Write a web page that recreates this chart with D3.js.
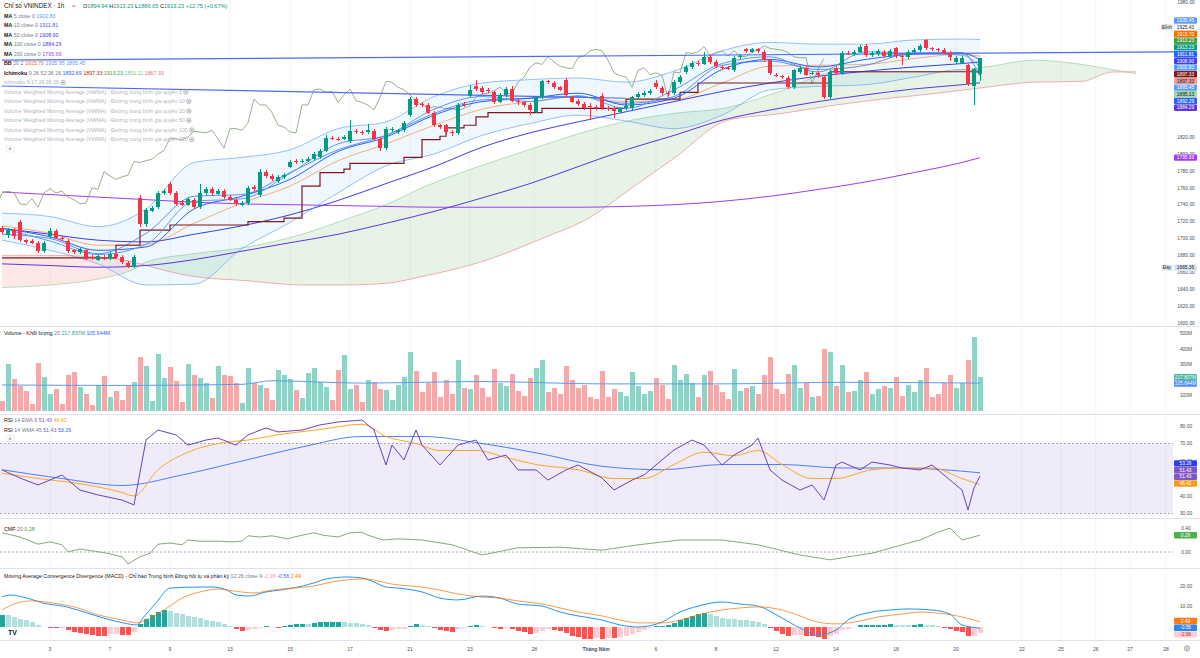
<!DOCTYPE html>
<html>
<head>
<meta charset="utf-8">
<script src="https://cdn.jsdelivr.net/npm/d3@7"></script>
<style>
  body { margin: 0; background: #fff; }
  svg { display: block; font-family: "Liberation Sans", Arial, sans-serif; }
</style>
</head>
<body>
<div class="chart"></div>
<script>
// ---- candles (1h bars, oldest first) ----
var opens = [1712,1704,1710,1719,1698,1697,1695,1685,1703,1709,1701,1697,1686,1684,1686,1678,1675,1678,1677,1682,
  1678,1671,1666,1748,1717,1733,1737,1754,1764,1754,1742,1740,1746,1737,1754,1759,1753,1756,1749,1746,
  1740,1742,1761,1751,1779,1774,1768,1773,1785,1792,1791,1792,1794,1796,1804,1819,1818,1818,1815,1827,
  1826,1826,1827,1818,1807,1828,1826,1828,1846,1865,1859,1858,1849,1834,1834,1826,1825,1859,1869,1880,
  1878,1876,1873,1862,1870,1877,1863,1861,1858,1850,1867,1886,1884,1879,1888,1867,1863,1859,1857,1856,
  1869,1855,1854,1850,1854,1854,1867,1870,1872,1884,1878,1872,1872,1885,1897,1903,1908,1907,1915,1909,
  1903,1902,1899,1915,1924,1921,1924,1921,1911,1894,1892,1890,1879,1897,1902,1895,1896,1891,1867,1902,
  1896,1920,1918,1921,1928,1917,1918,1921,1916,1925,1916,1915,1921,1923,1935,1925,1924,1923,1920,1909,
  1908,1905,1880.5,1894.94];
var highs = [1715,1713,1712,1722,1700,1699,1697,1697,1712,1711,1703,1699,1688,1689,1688,1680,1681,1680,1684,1684,
  1680,1673,1680,1752,1736,1738,1756,1758,1767,1756,1745,1749,1748,1765,1761,1761,1758,1758,1751,1748,
  1744,1762,1763,1782,1781,1776,1775,1777,1793,1794,1794,1796,1802,1806,1822,1821,1820,1822,1840,1829,
  1828,1836,1829,1820,1832,1832,1830,1839,1868,1867,1862,1860,1851,1836,1836,1828,1860,1861,1882,1888,
  1880,1878,1875,1872,1879,1880,1865,1863,1860,1869,1888,1888,1886,1881,1890,1869,1865,1861,1860,1858,
  1872,1857,1856,1856,1859,1869,1873,1874,1877,1887,1880,1874,1887,1893,1905,1910,1910,1921,1917,1911,
  1905,1904,1916,1918,1926,1926,1926,1923,1913,1896,1894,1892,1901,1904,1904,1898,1898,1893,1899,1904,
  1922,1922,1923,1929,1930,1922,1924,1923,1924,1927,1918,1923,1925,1930,1936,1927,1926,1925,1922,1916,
  1916,1907,1902,1913.23];
var lows = [1705,1701,1700,1696,1694,1693,1683,1683,1701,1699,1697,1683,1682,1682,1674,1675,1673,1674,1675,1676,
  1670,1665.36,1665.5,1714,1714,1731,1735,1752,1752,1739,1738,1738,1735,1735,1752,1752,1751,1747,1744,1739,
  1738,1740,1756,1749,1772,1768,1766,1771,1783,1788,1789,1790,1792,1794,1802,1816,1815,1816,1813,1824,
  1823,1824,1816,1804,1805,1826,1824,1826,1844,1856,1856,1847,1832,1830,1824,1821,1822,1856,1867,1875,
  1871,1872,1859,1860,1868,1861,1858,1856,1846,1848,1865,1883,1877,1874,1868,1860,1857,1852,1840,1852,
  1852,1851,1843,1848,1852,1852,1865,1868,1870,1877,1870,1869,1870,1883,1895,1901,1904,1905,1907,1902,
  1899,1899,1897,1913,1920,1919,1920,1909,1894,1891,1889,1877,1877,1895,1892,1893,1890,1865,1865,1894,
  1894,1917,1916,1919,1915,1915,1916,1914,1914,1914,1905,1913,1919,1921,1923,1922,1921,1918,1910,1907,
  1906,1881,1858,1886.05];
var closes = [1708,1710,1703,1698,1696,1695,1685,1695,1709,1701,1699,1685,1684,1687,1676,1677,1679,1676,1682,1678,
  1672,1666,1678,1717,1734,1736,1754,1756,1754,1741,1740,1747,1737,1754,1759,1754,1756,1749,1746,1741,
  1742,1760,1758,1779,1774,1770,1773,1775,1791,1790,1792,1794,1800,1804,1819,1818,1817,1820,1827,1826,
  1825,1828,1818,1807,1830,1830,1828,1837,1865,1858,1858,1849,1834,1832,1826,1825,1858,1858,1876,1877,
  1873,1874,1861,1870,1877,1863,1861,1858,1852,1867,1886,1885,1879,1876,1870,1862,1859,1854,1856,1855,
  1854,1854,1851,1854,1857,1867,1871,1872,1875,1879,1872,1871,1885,1891,1903,1908,1906,1915,1909,1904,
  1902,1901,1914,1916,1922,1924,1922,1911,1896,1893,1891,1879,1899,1902,1894,1896,1893,1867,1897,1896,
  1920,1919,1921,1927,1917,1920,1922,1916,1922,1916,1915,1921,1923,1928,1925,1924,1923,1920,1915,1914,
  1914,1883,1900.48,1913.23];

// ---- volume (millions) ----
var volumes = [64,301,205,160,128,45,307,218,109,141,45,231,250,154,109,38,167,224,90,128,
  70,160,186,346,288,64,365,211,282,192,58,301,231,211,179,83,288,231,224,179,
  51,276,179,167,147,70,263,231,205,135,83,244,276,186,154,70,263,359,141,167,
  58,199,186,141,135,70,170,220,380,260,120,180,250,90,200,110,330,150,140,230,
  150,90,270,180,160,240,130,100,210,280,330,120,150,110,290,200,150,170,90,80,
  260,90,140,120,100,250,160,110,130,210,170,80,300,200,240,180,90,230,260,170,
  120,80,270,130,150,160,110,230,350,140,110,240,300,150,180,90,100,400,380,160,
  300,120,130,200,250,110,140,160,150,220,100,170,120,200,280,90,110,180,230,150,
  180,330,475,217.837];
var volMaIdx = [0,20,40,45,60,80,100,120,140,163];
var volMaVal = [168,165,172,195,180,190,175,175,185,180];

// ---- overlays, sampled every 8 bars ----
var sampleIdx = [0,8,16,24,32,40,48,56,64,72,80,88,96,104,112,120,128,136,144,152,160,163];
var ma5 = [1712,1697,1681,1693,1744,1747,1777,1812,1822,1853,1868,1862,1869,1854,1876,1907,1915,1897,1921,1919,1917,1902.83];
var ma10 = [1712,1702,1686,1690,1735,1750,1770,1803,1820,1846,1862,1866,1872,1858,1866,1900,1912,1903,1912,1918,1919,1911.81];
var ma50 = [1712,1705,1698,1696,1705,1715,1728,1745,1765,1785,1808,1825,1838,1850,1862,1874,1884,1892,1898,1903,1907,1908.90];
var ma100 = [1670,1668,1666,1668,1675,1685,1695,1705,1718,1732,1748,1765,1785,1805,1822,1840,1852,1862,1870,1877,1882,1884.29];
var ma200 = [1755,1752,1749,1746,1743,1741,1740,1739,1738,1737,1737,1737,1737,1738,1740,1744,1750,1758,1767,1778,1790,1795.69];
var bbBasis = [1715,1706,1692,1693,1718,1742,1762,1792,1812,1834,1853,1862,1868,1862,1864,1884,1904,1905,1906,1913,1918,1915.70];
var bbUpper = [1730,1726,1714,1735,1790,1796,1805,1830,1838,1868,1884,1888,1890,1885,1898,1922,1932,1930,1930,1935,1936,1935.45];
var bbLower = [1698,1686,1670,1645,1646,1688,1719,1754,1786,1800,1822,1836,1846,1839,1830,1846,1876,1880,1882,1891,1900,1895.45];
var tenkan = [1705,1700,1682,1706,1750,1752,1778,1805,1822,1848,1864,1866,1868,1860,1868,1905,1910,1900,1905,1920,1920,1892.29];

var kijunIdx = [0,19,23,28,41,47,50,53,57,58,67,70,73,74,77,79,81,90,104,113,116,138,163];
var kijunVal = [1677,1692,1710,1716,1720,1724,1762,1778,1782,1789,1796,1817,1821,1831,1834,1844,1849,1854,1865,1873,1884,1897.33,1897.33];

var cloudIdx = [0,8,16,22,24,32,41,50,57,64,70,81,90,98,105,112,121,130,139,148,156,164,172,180,185,189];
var spanA = [1642,1645,1652,1664,1672,1682,1690,1705,1722,1740,1760,1789,1810,1828,1840,1848,1855,1875,1897,1897,1897,1903,1911,1906,1900,1895.13];
var spanB = [1680,1680,1678,1672,1668,1655,1650,1645,1645,1647,1655,1675,1700,1725,1760,1795,1840,1848,1858,1866,1872,1879,1885,1886,1897,1897.33];
var laggingShift = 26;

// user trend lines: [bar index, price]
var trendLines = [
  [[0, 1911], [196, 1921]],
  [[0, 1880.5], [104, 1866]]
];

// ---- RSI pane ----
var rsiIdx = [0,3,6,10,13,16,20,22,24,26,29,31,34,36,39,41,44,46,50,53,56,60,62,64,65,67,69,70,73,76,79,81,84,86,89,91,94,96,
  100,102,105,107,110,112,115,117,120,122,125,126,128,130,133,135,137,139,140,143,145,148,150,153,155,158,160,161,162,163];
var rsiVal = [54.9,50.3,46.3,52.0,43.4,40.6,37.7,34.9,72.0,77.7,74.9,69.1,72.0,73.1,69.1,74.9,78.9,76.6,77.7,80.6,82.3,83.4,77.7,57.7,69.1,60.6,77.7,69.1,57.7,69.1,72.0,60.6,63.4,54.9,54.9,49.1,54.9,57.7,
  50.3,43.4,49.1,52.0,60.6,66.3,72.0,69.1,57.7,63.4,69.1,73.1,54.9,49.1,43.4,46.3,37.7,57.7,59.4,54.9,59.4,57.7,56.0,54.9,57.7,49.1,43.4,32.0,44.6,51.43];
var rsiEmaIdx = [0,6,13,20,22,26,31,36,41,46,53,60,64,69,73,79,84,89,96,102,107,112,117,122,126,130,135,139,145,150,155,160,163];
var rsiEmaVal = [53,50,47,42,40,55,65,70,72,75,78,81,74,70,66,66,62,58,55,50,50,58,65,63,66,58,50,50,55,56,56,50,46.42];
var rsiWmaIdx = [0,10,20,30,40,50,60,70,80,90,100,110,120,130,140,150,163];
var rsiWmaVal = [55,50,46,52,60,68,74,74,70,64,57,55,58,58,56,56,53.26];

// ---- CMF pane ----
var cmfIdx = [0,3,5,6,8,10,11,13,15,17.5,20,21,23,24.7,26,28,30,31,33,36,38.5,40,41,43,45,47.5,50,52,53.5,56,58,60,61,63.5,66,
  70,75,80,86,93,100,106,113,120,126,133,138,141,145,150,153,156,158,160,163];
var cmfVal = [0.32,0.25,0.17,0.13,0.17,0.12,0.0,0.05,0.02,-0.02,-0.08,-0.2,-0.08,-0.02,0.13,0.15,0.12,0.2,0.18,0.18,0.17,0.18,0.27,0.25,0.27,0.22,0.28,0.32,0.28,0.25,0.32,0.33,0.28,0.2,0.22,
  0.2,0.12,-0.05,0.07,0.08,0.03,0.12,0.2,0.2,0.12,-0.05,-0.13,-0.08,-0.02,0.12,0.2,0.33,0.4,0.2,0.28];

// ---- MACD pane ----
var macdIdx = [0,1.3,4.2,6.8,10.8,14.2,17.5,20.2,22.5,23.5,25.8,28,33,35,37.5,39,41.3,44,46.3,48.5,52,54,57.5,60,62,64,66,
  70,73,76,80,83,86,90,93,96,100,103,106,110,113,116,120,123,126,130,133,136,139,141,145,148,151,155,158,160,163];
var macdVal = [14.6,15.6,14.1,11.7,9.8,6.8,3.9,2.0,1.0,4.4,12.2,19.0,19.5,19.5,18.0,15.6,15.1,17.1,18.0,19.0,21.5,23.4,24.4,23.9,22.0,19.5,19.0,
  17.1,14.1,13.2,15.1,14.1,11.2,10.2,7.3,5.4,3.4,1.0,0.0,2.4,7.3,10.2,12.2,11.2,10.2,4.4,-0.5,-3.9,-1.5,3.4,7.3,8.3,8.8,8.3,6.3,1.0,-0.56];
var signalIdx = [0,2.5,5,8.5,12,16,20,22.5,25,27.5,30,33,36,38.5,42,45,48.5,52,55,60,62,64,66,
  70,73,76,80,83,86,90,93,96,100,103,106,110,113,116,120,123,126,130,133,136,139,143,146,150,153,156,160,163];
var signalVal = [8.3,11.7,12.7,11.7,9.8,5.9,3.4,2.0,4.9,9.3,14.1,17.1,18.5,17.6,16.6,18.0,19.0,20.0,22.0,23.4,22.9,21.5,20.5,
  19.5,18.0,16.1,14.6,14.1,12.7,11.2,9.3,7.3,5.4,3.4,2.0,2.0,3.4,5.9,8.3,9.3,9.8,8.3,5.4,2.4,1.5,2.9,4.9,6.3,7.3,6.8,4.9,2.49];
var histogram = [6.0,5.8,4.8,4.0,3.2,2.4,1.2,0.2,-0.4,-0.5,-0.3,-1.5,-2.3,-2.8,-3.3,-4.0,-4.4,-4.4,-3.6,-3.4,
  -3.8,-4.0,-2.5,1.5,4.0,6.0,7.5,8.3,8.0,7.0,6.2,5.5,4.8,4.2,3.6,3.0,2.3,1.5,0.6,-1.2,
  -2.0,-1.6,-0.8,-0.2,0.4,0.2,-0.1,0.3,1.2,1.5,1.5,1.4,2.0,2.3,2.5,2.6,2.6,2.2,2.0,1.8,
  1.5,1.0,-0.6,-1.5,-1.8,-1.5,-1.2,-0.8,0.5,1.5,1.2,0.6,-0.5,-1.5,-2.0,-2.2,-1.0,-0.3,0.3,0.8,
  0.6,0.2,-0.6,-0.9,-0.7,-1.2,-1.8,-2.4,-3.2,-3.0,-1.8,-1.2,-1.5,-2.0,-3.0,-4.2,-5.0,-5.8,-6.0,-5.6,
  -5.8,-5.5,-5.6,-5.0,-4.2,-3.2,-2.2,-1.3,-0.4,0.4,0.6,0.9,2.0,3.2,4.5,5.6,6.2,6.6,6.2,5.4,
  4.6,4.0,3.8,3.5,3.2,2.9,2.4,1.5,-0.5,-2.0,-3.2,-4.4,-4.0,-3.8,-4.2,-4.5,-5.0,-6.0,-4.5,-3.6,
  -1.5,-0.8,0.2,0.8,0.8,1.0,1.2,1.2,1.4,1.2,0.9,0.8,1.0,1.4,1.2,0.9,0.5,-0.3,-1.2,-2.0,
  -2.6,-4.5,-4.2,-2.96];

// ---- axes ----
var priceTicks = [1600,1620,1640,1660,1680,1700,1720,1740,1760,1780,1800,1820,1960,1980];
var volumeTicks = [100,200,300,400,500];
var rsiTicks = [30,40,50,60,70,80];
var cmfTicks = [0, 0.4];
var macdTicks = [10, 20];
var timeTickIdx = [8,18,28,38,48,58,68,78,88.7,99,109,119,129,139,149,159,170,176.5,182.3,188,194];
var timeTickLabels = ["3","7","9","13","15","17","21","23","28","Tháng Năm","6","8","12","14","18","20","22","25","26","27","28"];

// right-axis value labels: [value, text, colour key]
var priceTags = [
  [1935.45, "1935.45", "bb"], [1925.43, "1925.43", "high"], [1915.70, "1915.70", "basis"],
  [1913.23, "1913.23", "lag"], [1913.23, "1913.23", "close"], [1911.81, "1911.81", "ma10"],
  [1908.90, "1908.90", "ma50"], [1902.83, "1902.83", "ma5"], [1897.33, "1897.33", "kijun"],
  [1897.33, "1897.33", "spanB"], [1895.45, "1895.45", "bb"], [1895.13, "1895.13", "spanA"],
  [1892.29, "1892.29", "tenkan"], [1884.29, "1884.29", "ma100"]
];

var C = {
  up: "#089981", down: "#f23645",
  ma5: "#5b9cf6", ma10: "#2962ff", ma50: "#3d3df2", ma100: "#5e35e0", ma200: "#a13cf0",
  bb: "#5b9cf6", basis: "#ff6d00", tenkan: "#2962ff", kijun: "#801919", lag: "#43a047",
  spanA: "#a5d6a7", spanB: "#ef9a9a", close: "#089981", high: "#ffffff",
  text: "#131722", grey: "#787b86", faint: "#b2b5be"
};

var width = 1200, height = 658, plotW = 1175;
var svg = d3.select(".chart").append("svg").attr("width", width).attr("height", height);

var x = d3.scaleLinear().domain([0, 163]).range([2, 980]);
var yPrice = d3.scaleLinear().domain([1600, 1980]).range([323, 1.9]);
var yVol = d3.scaleLinear().domain([0, 500]).range([411, 333.5]);
var yRsi = d3.scaleLinear().domain([30, 80]).range([513.5, 426]);
var yCmf = d3.scaleLinear().domain([0, 0.4]).range([552, 528]);
var yMacd = d3.scaleLinear().domain([0, 20]).range([627, 586]);

function clip(id, y0, y1) {
  svg.append("clipPath").attr("id", id).append("rect")
    .attr("x", 0).attr("y", y0).attr("width", plotW).attr("height", y1 - y0);
}
clip("cMain", 0, 325); clip("cVol", 327, 413); clip("cRsi", 415, 517); clip("cCmf", 519, 567); clip("cMacd", 569, 639);

// grid + separators
var grid = svg.append("g");
timeTickIdx.forEach(function (t) {
  grid.append("line").attr("x1", x(t)).attr("x2", x(t)).attr("y1", 0).attr("y2", 640)
    .attr("stroke", "#f4f5f8").attr("stroke-width", 1);
});
[326, 414, 518, 568, 640].forEach(function (y) {
  grid.append("line").attr("x1", 0).attr("x2", width).attr("y1", y + 0.5).attr("y2", y + 0.5)
    .attr("stroke", "#e0e3eb");
});

function pts(idx, vals) { return d3.zip(idx, vals); }
function drawLine(g, data, yScale, color, w, curve, opacity) {
  g.append("path").datum(data)
    .attr("fill", "none").attr("stroke", color).attr("stroke-width", w || 1)
    .attr("opacity", opacity == null ? 1 : opacity)
    .attr("d", d3.line().x(function (d) { return x(d[0]); }).y(function (d) { return yScale(d[1]); })
      .curve(curve || d3.curveMonotoneX));
}

// ===== main pane =====
var main = svg.append("g").attr("clip-path", "url(#cMain)");

// ichimoku cloud (green where A above B, red otherwise)
var cloud = d3.zip(cloudIdx, spanA, spanB);
var cloudArea = d3.area().x(function (d) { return x(d[0]); })
  .y0(function (d) { return yPrice(d[2]); }).y1(function (d) { return yPrice(d[1]); }).curve(d3.curveMonotoneX);
svg.append("clipPath").attr("id", "aboveB").append("path").datum(cloud)
  .attr("d", d3.area().x(function (d) { return x(d[0]); }).y0(0).y1(function (d) { return yPrice(d[2]); }).curve(d3.curveMonotoneX));
svg.append("clipPath").attr("id", "belowB").append("path").datum(cloud)
  .attr("d", d3.area().x(function (d) { return x(d[0]); }).y0(330).y1(function (d) { return yPrice(d[2]); }).curve(d3.curveMonotoneX));
main.append("g").attr("clip-path", "url(#aboveB)").append("path").datum(cloud)
  .attr("d", cloudArea).attr("fill", "rgba(67,160,71,0.13)");
main.append("g").attr("clip-path", "url(#belowB)").append("path").datum(cloud)
  .attr("d", cloudArea).attr("fill", "rgba(244,67,54,0.12)");
drawLine(main, pts(cloudIdx, spanA), yPrice, C.spanA, 0.8);
drawLine(main, pts(cloudIdx, spanB), yPrice, C.spanB, 0.8);

// bollinger fill
main.append("path").datum(d3.zip(sampleIdx, bbUpper, bbLower))
  .attr("fill", "rgba(33,150,243,0.07)")
  .attr("d", d3.area().x(function (d) { return x(d[0]); })
    .y0(function (d) { return yPrice(d[2]); }).y1(function (d) { return yPrice(d[1]); }).curve(d3.curveMonotoneX));

drawLine(main, pts(sampleIdx, ma200), yPrice, C.ma200, 1);
drawLine(main, pts(sampleIdx, ma100), yPrice, C.ma100, 1);
drawLine(main, pts(sampleIdx, ma50), yPrice, C.ma50, 1);
drawLine(main, pts(sampleIdx, bbUpper), yPrice, C.bb, 0.9, null, 0.7);
drawLine(main, pts(sampleIdx, bbLower), yPrice, C.bb, 0.9, null, 0.7);
drawLine(main, pts(sampleIdx, bbBasis), yPrice, C.basis, 0.9, null, 0.6);
drawLine(main, closes.map(function (c, i) { return [i - laggingShift, c]; }), yPrice, "#8fa880", 0.9, d3.curveLinear);
drawLine(main, pts(kijunIdx, kijunVal), yPrice, C.kijun, 1.2, d3.curveStepAfter);
drawLine(main, pts(sampleIdx, tenkan), yPrice, C.tenkan, 0.9, null, 0.8);
drawLine(main, pts(sampleIdx, ma10), yPrice, C.ma10, 1);
drawLine(main, pts(sampleIdx, ma5), yPrice, C.ma5, 1);

trendLines.forEach(function (t) {
  main.append("line").attr("x1", x(t[0][0])).attr("y1", yPrice(t[0][1]))
    .attr("x2", x(t[1][0])).attr("y2", yPrice(t[1][1]))
    .attr("stroke", "#4d6cf5").attr("stroke-width", 1.2);
});

// candles
var candles = main.append("g").attr("shape-rendering", "crispEdges");
closes.forEach(function (c, i) {
  var o = opens[i], col = c >= o ? C.up : C.down;
  candles.append("rect").attr("x", x(i) - 0.5).attr("width", 1)
    .attr("y", yPrice(highs[i])).attr("height", Math.max(1, yPrice(lows[i]) - yPrice(highs[i])))
    .attr("fill", col);
  candles.append("rect").attr("x", x(i) - 2).attr("width", 4)
    .attr("y", yPrice(Math.max(o, c))).attr("height", Math.max(1, Math.abs(yPrice(o) - yPrice(c))))
    .attr("fill", col);
});

// ===== volume pane =====
var vol = svg.append("g").attr("clip-path", "url(#cVol)").attr("shape-rendering", "crispEdges");
volumes.forEach(function (v, i) {
  vol.append("rect").attr("x", x(i) - 2).attr("width", 5)
    .attr("y", yVol(v)).attr("height", yVol(0) - yVol(v))
    .attr("fill", closes[i] >= opens[i] ? "#8fd3c6" : "#f5a8aa");
});
drawLine(svg.append("g").attr("clip-path", "url(#cVol)"), pts(volMaIdx, volMaVal), yVol, "#5b9cf6", 1);

// ===== RSI pane =====
var rsi = svg.append("g").attr("clip-path", "url(#cRsi)");
rsi.append("rect").attr("x", 0).attr("width", 1173).attr("y", yRsi(70)).attr("height", yRsi(30) - yRsi(70))
  .attr("fill", "rgba(126,87,194,0.12)");
[70, 30].forEach(function (v) {
  rsi.append("line").attr("x1", 0).attr("x2", 1173).attr("y1", yRsi(v)).attr("y2", yRsi(v))
    .attr("stroke", "#9598a1").attr("stroke-dasharray", "2,2").attr("stroke-width", 0.8);
});
drawLine(rsi, pts(rsiWmaIdx, rsiWmaVal), yRsi, "#2962ff", 1, null, 0.8);
drawLine(rsi, pts(rsiEmaIdx, rsiEmaVal), yRsi, "#ffa726", 1);
drawLine(rsi, pts(rsiIdx, rsiVal), yRsi, "#6a42c2", 1, d3.curveLinear);

// ===== CMF pane =====
var cmf = svg.append("g").attr("clip-path", "url(#cCmf)");
cmf.append("line").attr("x1", 0).attr("x2", 1173).attr("y1", yCmf(0)).attr("y2", yCmf(0))
  .attr("stroke", "#9598a1").attr("stroke-dasharray", "2,2").attr("stroke-width", 0.8);
drawLine(cmf, pts(cmfIdx, cmfVal), yCmf, "#86a97a", 1, d3.curveLinear);

// ===== MACD pane =====
var macd = svg.append("g").attr("clip-path", "url(#cMacd)");
var hg = macd.append("g").attr("shape-rendering", "crispEdges");
histogram.forEach(function (h, i) {
  var prev = i > 0 ? histogram[i - 1] : h, col;
  if (h >= 0) col = h >= prev ? "#26a69a" : "#b2dfdb";
  else col = h <= prev ? "#ff5252" : "#ffcdd2";
  hg.append("rect").attr("x", x(i) - 2).attr("width", 5)
    .attr("y", Math.min(yMacd(h), yMacd(0))).attr("height", Math.max(0.5, Math.abs(yMacd(h) - yMacd(0))))
    .attr("fill", col);
});
drawLine(macd, pts(macdIdx, macdVal), yMacd, "#2196f3", 1);
drawLine(macd, pts(signalIdx, signalVal), yMacd, "#ff6d00", 1, null, 0.7);

// ===== right axis =====
var axis = svg.append("g").attr("font-size", "4.9px").attr("fill", "#4a4e59").attr("text-anchor", "middle");
function ticks(list, scale, fmt) {
  list.forEach(function (t) {
    axis.append("text").attr("x", 1186).attr("y", scale(t) + 1.7).text(fmt(t));
  });
}
ticks(priceTicks, yPrice, function (t) { return t.toFixed(2); });
ticks(volumeTicks, yVol, function (t) { return t + "M"; });
ticks(rsiTicks, yRsi, function (t) { return t.toFixed(2); });
ticks(cmfTicks, yCmf, function (t) { return t.toFixed(2); });
ticks(macdTicks, yMacd, function (t) { return t.toFixed(2); });

function stack(list, scale, gap) {
  var items = list.map(function (d, k) { return { v: d[0], t: d[1], c: d[2], y0: scale(d[0]), k: k }; })
    .sort(function (a, b) { return a.y0 - b.y0 || a.k - b.k; });
  var groups = [];
  items.forEach(function (d) {
    groups.push([d]);
    while (groups.length > 1) {
      var g = groups[groups.length - 1], p = groups[groups.length - 2];
      var pc = d3.mean(p, function (e) { return e.y0; }), gc = d3.mean(g, function (e) { return e.y0; });
      if (gc - g.length * gap / 2 < pc + p.length * gap / 2) { groups.pop(); groups[groups.length - 1] = p.concat(g); }
      else break;
    }
  });
  groups.forEach(function (g) {
    var top = d3.mean(g, function (e) { return e.y0; }) - g.length * gap / 2;
    g.forEach(function (e, k) { e.y = top + gap * (k + 0.5); });
  });
  return items;
}
var darkText = { spanA: 1, spanB: 1, high: 1 };
function tag(y, text, bg, fg) {
  var g = svg.append("g");
  g.append("rect").attr("x", 1174).attr("y", y - 3.2).attr("width", 23).attr("height", 6.4).attr("rx", 1)
    .attr("fill", bg).attr("stroke", bg === "#ffffff" ? "#d1d4dc" : "none").attr("stroke-width", 0.4);
  g.append("text").attr("x", 1185.5).attr("y", y + 1.7).attr("text-anchor", "middle")
    .attr("font-size", "4.8px").attr("fill", fg).text(text);
}
function sideTag(y, text) {
  svg.append("rect").attr("x", 1161).attr("y", y - 3.2).attr("width", 12).attr("height", 6.4).attr("rx", 1).attr("fill", "#e9ecf2");
  svg.append("text").attr("x", 1167).attr("y", y + 1.7).attr("text-anchor", "middle")
    .attr("font-size", "4.8px").attr("fill", C.text).text(text);
}
stack(priceTags, yPrice, 6.7).forEach(function (d) {
  var bg = d.c === "high" ? "#ffffff" : C[d.c];
  tag(d.y, d.t, bg, darkText[d.c] ? C.text : "#ffffff");
  if (d.c === "high") sideTag(d.y, "Đỉnh");
});
tag(yPrice(1795.69), "1795.69", C.ma200, "#fff");
tag(yPrice(1665.36), "1665.36", "#dde5f3", C.text);
sideTag(yPrice(1665.36), "Đáy");

// volume tag at its value, the MA tag sits right under it (as in the TradingView scale)
var volTagY = yVol(217.837);
tag(volTagY, "217.837M", "#4fb3a0", "#fff");
tag(volTagY + 6.4, "105.644M", "#4c8df6", "#fff");

stack([[53.26, "53.26", "#2b3ff0"], [51.43, "51.43", "#7e57c2"], [51.43, "51.43", "#7e57c2"], [46.42, "46.42", "#f59c1a"]], yRsi, 6.7)
  .forEach(function (d) { tag(d.y - 4, d.t, d.c, "#fff"); });
tag(yCmf(0.28), "0.28", "#4caf50", "#fff");
stack([[2.49, "2.49", "#ff7a1a"], [-0.56, "-0.56", "#2f86f0"], [-2.96, "-2.96", "#ffcdd2"]], yMacd, 6.7)
  .forEach(function (d) { tag(d.y, d.t, d.c, d.c === "#ffcdd2" ? "#b71c1c" : "#fff"); });

// ===== time axis =====
var taxis = svg.append("g").attr("font-size", "5px").attr("fill", "#4a4e59").attr("text-anchor", "middle");
timeTickIdx.forEach(function (t, k) {
  taxis.append("text").attr("x", x(t)).attr("y", 650.5).attr("font-weight", timeTickLabels[k] === "Tháng Năm" ? 700 : 400)
    .text(timeTickLabels[k]);
});
svg.append("circle").attr("cx", 1187).attr("cy", 648.5).attr("r", 2.6).attr("fill", "none").attr("stroke", "#6a6d78").attr("stroke-width", 0.7);
svg.append("circle").attr("cx", 1187).attr("cy", 648.5).attr("r", 0.9).attr("fill", "none").attr("stroke", "#6a6d78").attr("stroke-width", 0.6);
svg.append("text").attr("x", 8).attr("y", 635).attr("font-size", "7px").attr("font-weight", 700).attr("fill", "#131722").text("TV");

// ===== legends =====
var legend = svg.append("g").attr("font-size", "5.3px");
function row(xp, y, parts, size) {
  var t = legend.append("text").attr("x", xp).attr("y", y).attr("font-size", size || null);
  parts.forEach(function (p, k) {
    t.append("tspan").attr("fill", p[1]).attr("font-weight", p[2] || 400).text((k ? " " : "") + p[0]);
  });
  return t;
}
function eye(t, y) {
  var bx = t.node().getComputedTextLength() + t.node().getStartPositionOfChar(0).x + 4;
  legend.append("circle").attr("cx", bx).attr("cy", y - 1.8).attr("r", 2.3).attr("fill", "#eceef2").attr("stroke", "#8a8d96").attr("stroke-width", 0.5);
  legend.append("circle").attr("cx", bx).attr("cy", y - 1.8).attr("r", 0.8).attr("fill", "#8a8d96");
}
var G = C.grey;
row(4, 8, [["Chỉ số VNINDEX · 1h", C.text, 500]], "6.3px");
legend.append("text").attr("x", 72).attr("y", 8).attr("font-size", "6px").attr("fill", G).text("≈");
var ohlc = legend.append("text").attr("x", 83).attr("y", 8).attr("font-size", "5.6px");
[["O", "1894.94"], ["H", "1913.23"], ["L", "1886.05"], ["C", "1913.23"]].forEach(function (p, k) {
  ohlc.append("tspan").attr("fill", C.text).text((k ? " " : "") + p[0]);
  ohlc.append("tspan").attr("fill", C.up).text(p[1]);
});
ohlc.append("tspan").attr("fill", C.up).text(" +12.75 (+0.67%)");
row(4, 17.8, [["MA", C.text, 600], ["5 close 0", G], ["1902.83", C.ma5]]);
row(4, 27.3, [["MA", C.text, 600], ["10 close 0", G], ["1911.81", C.ma10]]);
row(4, 36.8, [["MA", C.text, 600], ["50 close 0", G], ["1908.90", C.ma50]]);
row(4, 46.3, [["MA", C.text, 600], ["100 close 0", G], ["1884.29", C.ma100]]);
row(4, 55.8, [["MA", C.text, 600], ["200 close 0", G], ["1795.69", C.ma200]]);
row(4, 65.3, [["BB", C.text, 600], ["20 2", G], ["1915.70", C.basis], ["1935.95", C.bb], ["1895.45", C.bb]]);
row(4, 74.8, [["Ichimoku", C.text, 600], ["9 26 52 26 26", G], ["1892.69", C.tenkan], ["1897.33", "#b71c1c"],
  ["1913.23", C.lag], ["1851.11", "#81c784"], ["1867.33", "#e57373"]]);
eye(row(4, 84.3, [["Ichimoku 9 17 26 26 26", C.faint]]), 84.3);
[5, 10, 20, 50, 100, 200].forEach(function (n, k) {
  var y = 93.8 + k * 9.5;
  eye(row(4, y, [["Volume Weighted Moving Average (VWMA) · Đường trung bình gia quyền " + n, C.faint]]), y);
});
function collapse(y) {
  legend.append("rect").attr("x", 6).attr("y", y - 3).attr("width", 8).attr("height", 6).attr("rx", 1)
    .attr("fill", "#fff").attr("stroke", "#d1d4dc").attr("stroke-width", 0.5);
  legend.append("text").attr("x", 10).attr("y", y + 2).attr("text-anchor", "middle").attr("font-size", "5px").attr("fill", C.text).text("˄");
}
collapse(149);
row(4, 335, [["Volume - Khối lượng", C.text], ["20", G], ["217.837M", "#26a69a"], ["105.644M", "#2962ff"]]);
row(4, 422, [["RSI", C.text], ["14 EMA 9", G], ["51.43", "#7e57c2"], ["46.42", "#ff9800"]]);
row(4, 431.5, [["RSI", C.text], ["14 WMA 45", G], ["51.43", "#7e57c2"], ["53.26", "#2962ff"]]);
collapse(438.5);
row(4, 531, [["CMF", C.text], ["20", G], ["0.28", "#43a047"]]);
row(4, 578, [["Moving Average Convergence Divergence (MACD) - Chỉ báo Trung bình Động hội tụ và phân kỳ", C.text],
  ["12 26 close 9", G], ["-2.96", "#ef9a9a"], ["-0.56", "#2962ff"], ["2.49", "#ff6d00"]]);
</script>
</body>
</html>
